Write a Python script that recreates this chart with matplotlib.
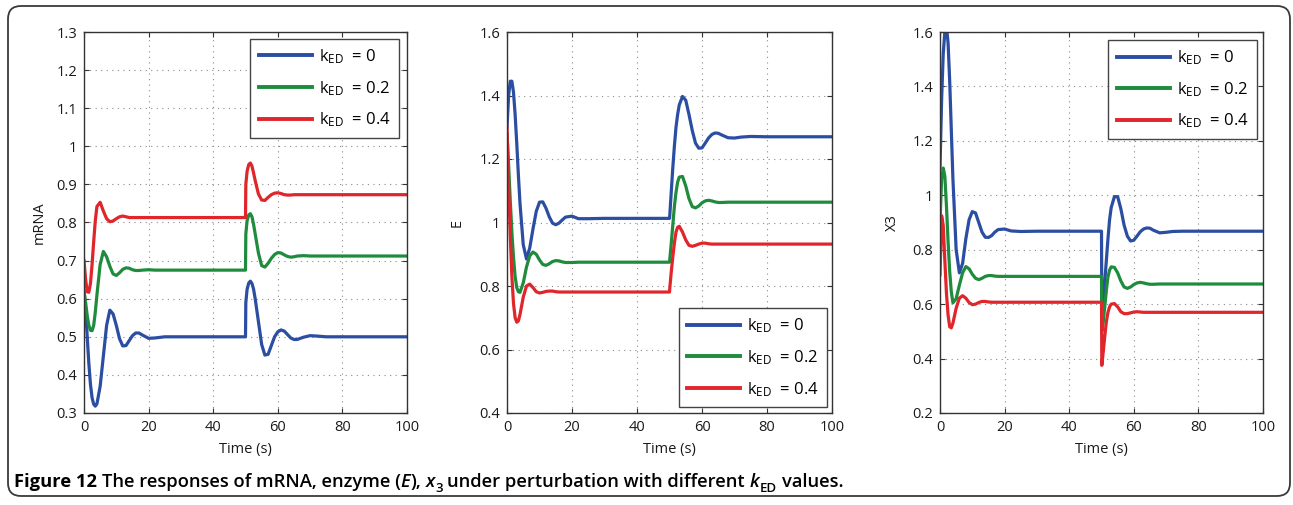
import matplotlib
matplotlib.use('Agg')
import matplotlib.pyplot as plt
from matplotlib.patches import FancyBboxPatch
from matplotlib.ticker import FixedLocator, FuncFormatter
from matplotlib.transforms import IdentityTransform

plt.rcParams['font.family'] = ['Open Sans', 'DejaVu Sans']
plt.rcParams['mathtext.fontset'] = 'custom'
plt.rcParams['mathtext.rm'] = 'Open Sans'
plt.rcParams['mathtext.it'] = 'Open Sans:italic'
plt.rcParams['mathtext.bf'] = 'Open Sans:bold'

# --- data ---
time_s = [0, 0.5, 1, 1.5, 2, 2.5, 3, 3.5, 4,
          5, 6, 7, 8, 9, 10, 11, 12, 13, 14, 15, 16, 17, 18,
          20, 22, 25, 30, 40, 50,
          50.1, 50.5, 51, 51.5, 52, 52.5, 53,
          54, 55, 56, 57, 58, 59, 60, 61, 62, 63, 64, 65, 66,
          68, 70, 72, 75, 80, 90, 100]

mrna_k0 = [0.62, 0.57, 0.50, 0.43, 0.375, 0.34, 0.323, 0.318, 0.324,
           0.37, 0.45, 0.53, 0.57, 0.56, 0.53, 0.495, 0.476, 0.477, 0.49, 0.503, 0.51, 0.51, 0.505,
           0.496, 0.497, 0.50, 0.50, 0.50, 0.50,
           0.59, 0.625, 0.641, 0.646, 0.64, 0.625, 0.60,
           0.54, 0.48, 0.452, 0.454, 0.477, 0.50, 0.513, 0.518, 0.515, 0.506, 0.497, 0.493, 0.493,
           0.499, 0.503, 0.502, 0.50, 0.50, 0.50, 0.50]
mrna_k02 = [0.62, 0.59, 0.555, 0.53, 0.517, 0.516, 0.53, 0.565, 0.61,
            0.69, 0.724, 0.71, 0.685, 0.665, 0.661, 0.668, 0.677, 0.681, 0.68, 0.676, 0.674, 0.674, 0.675,
            0.676, 0.675, 0.675, 0.675, 0.675, 0.675,
            0.77, 0.805, 0.82, 0.823, 0.815, 0.795, 0.77,
            0.72, 0.687, 0.683, 0.693, 0.706, 0.716, 0.721, 0.72, 0.715, 0.711, 0.709, 0.71, 0.712,
            0.713, 0.712, 0.712, 0.712, 0.712, 0.712, 0.712]
mrna_k04 = [0.70, 0.65, 0.618, 0.617, 0.64, 0.69, 0.75, 0.805, 0.842,
            0.853, 0.83, 0.81, 0.802, 0.804, 0.81, 0.815, 0.817, 0.815, 0.813, 0.813, 0.813, 0.813, 0.813,
            0.813, 0.813, 0.813, 0.813, 0.813, 0.813,
            0.90, 0.935, 0.952, 0.956, 0.948, 0.93, 0.91,
            0.875, 0.859, 0.858, 0.866, 0.873, 0.877, 0.878, 0.876, 0.873, 0.872, 0.872, 0.873, 0.873,
            0.873, 0.873, 0.873, 0.873, 0.873, 0.873, 0.873]

enz_k0 = [1.30, 1.40, 1.445, 1.445, 1.41, 1.34, 1.25, 1.15, 1.06,
          0.93, 0.885, 0.92, 0.98, 1.035, 1.064, 1.065, 1.045, 1.018, 0.998, 0.993, 0.998, 1.008, 1.017,
          1.02, 1.012, 1.012, 1.013, 1.013, 1.013,
          1.025, 1.09, 1.17, 1.24, 1.30, 1.34, 1.37,
          1.397, 1.385, 1.34, 1.29, 1.25, 1.234, 1.235, 1.25, 1.266, 1.277, 1.282, 1.281, 1.276,
          1.267, 1.266, 1.269, 1.271, 1.27, 1.27, 1.27]
enz_k02 = [1.28, 1.18, 1.07, 0.97, 0.89, 0.83, 0.795, 0.782, 0.78,
           0.81, 0.86, 0.895, 0.907, 0.90, 0.882, 0.868, 0.865, 0.87, 0.877, 0.88, 0.879, 0.876, 0.874,
           0.874, 0.875, 0.875, 0.875, 0.875, 0.875,
           0.885, 0.93, 0.99, 1.05, 1.095, 1.127, 1.143,
           1.145, 1.115, 1.075, 1.05, 1.046, 1.052, 1.062, 1.068, 1.07, 1.068, 1.065, 1.063, 1.063,
           1.064, 1.064, 1.064, 1.064, 1.064, 1.064, 1.064]
enz_k04 = [1.30, 1.12, 0.96, 0.83, 0.745, 0.70, 0.686, 0.69, 0.71,
           0.765, 0.80, 0.806, 0.795, 0.782, 0.778, 0.78, 0.783, 0.784, 0.784, 0.782, 0.781, 0.781, 0.781,
           0.781, 0.781, 0.781, 0.781, 0.781, 0.781,
           0.795, 0.84, 0.89, 0.935, 0.97, 0.985, 0.988,
           0.97, 0.945, 0.928, 0.925, 0.928, 0.932, 0.935, 0.935, 0.933, 0.932, 0.932, 0.932, 0.932,
           0.932, 0.932, 0.932, 0.932, 0.932, 0.932, 0.932]

x3_k0 = [1.10, 1.35, 1.52, 1.60, 1.62, 1.56, 1.42, 1.24, 1.06,
         0.80, 0.715, 0.75, 0.84, 0.91, 0.94, 0.935, 0.90, 0.865, 0.846, 0.845, 0.852, 0.865, 0.874,
         0.876, 0.869, 0.867, 0.868, 0.868, 0.868,
         0.55, 0.60, 0.68, 0.76, 0.84, 0.91, 0.955,
         0.995, 0.995, 0.95, 0.89, 0.85, 0.832, 0.835, 0.85, 0.866, 0.876, 0.88, 0.879, 0.872,
         0.862, 0.864, 0.867, 0.868, 0.868, 0.868, 0.868]
x3_k02 = [0.90, 1.06, 1.10, 1.07, 0.96, 0.83, 0.72, 0.645, 0.605,
          0.62, 0.67, 0.715, 0.738, 0.73, 0.71, 0.695, 0.69, 0.695, 0.702, 0.705, 0.705, 0.703, 0.702,
          0.702, 0.702, 0.702, 0.702, 0.702, 0.702,
          0.50, 0.53, 0.59, 0.65, 0.70, 0.725, 0.737,
          0.735, 0.715, 0.685, 0.663, 0.658, 0.663, 0.672, 0.678, 0.68, 0.678, 0.675, 0.673, 0.673,
          0.674, 0.674, 0.674, 0.674, 0.674, 0.674, 0.674]
x3_k04 = [0.708, 0.925, 0.89, 0.76, 0.64, 0.56, 0.517, 0.513, 0.53,
          0.585, 0.622, 0.631, 0.622, 0.606, 0.598, 0.60, 0.606, 0.61, 0.61, 0.608, 0.607, 0.607, 0.607,
          0.607, 0.607, 0.607, 0.607, 0.607, 0.607,
          0.375, 0.42, 0.48, 0.535, 0.57, 0.59, 0.60,
          0.602, 0.59, 0.572, 0.565, 0.565, 0.568, 0.571, 0.572, 0.571, 0.57, 0.57, 0.57, 0.57,
          0.57, 0.57, 0.57, 0.57, 0.57, 0.57, 0.57]

series_labels = [r'k$_{\mathrm{ED}}$  = 0', r'k$_{\mathrm{ED}}$  = 0.2', r'k$_{\mathrm{ED}}$  = 0.4']
series_colors = ['#2b4ea2', '#1e8c3c', '#e0252b']

x_ticks = [0, 20, 40, 60, 80, 100]
mrna_ticks = [0.3, 0.4, 0.5, 0.6, 0.7, 0.8, 0.9, 1.0, 1.1, 1.2, 1.3]
enz_ticks = [0.4, 0.6, 0.8, 1.0, 1.2, 1.4, 1.6]
x3_ticks = [0.2, 0.4, 0.6, 0.8, 1.0, 1.2, 1.4, 1.6]

W, H = 1293, 505
fig = plt.figure(figsize=(W / 100, H / 100), dpi=100)

panels = [
    # (left px, width px, ylabel, label x, series, ticks, legend loc, legend anchor)
    (84, 323, 'mRNA', -0.115, [mrna_k0, mrna_k02, mrna_k04], mrna_ticks,
     'upper right', (0.975, 0.982)),
    (507, 325, 'E', -0.13, [enz_k0, enz_k02, enz_k04], enz_ticks,
     'lower right', (0.985, 0.016)),
    (940, 323, 'X3', -0.125, [x3_k0, x3_k02, x3_k04], x3_ticks,
     'upper right', (0.981, 0.979)),
]

edge = '#333333'
for left, width, ylab, lab_x, ys, yt, loc, anchor in panels:
    ax = fig.add_axes([left / W, (H - 413) / H, width / W, 381 / H])
    for y, lab, col in zip(ys, series_labels, series_colors):
        ax.plot(time_s, y, color=col, lw=2.3, label=lab, solid_joinstyle='round')
    ax.set_xlim(0, 100)
    ax.set_ylim(yt[0], yt[-1])
    ax.xaxis.set_major_locator(FixedLocator(x_ticks))
    ax.yaxis.set_major_locator(FixedLocator(yt))
    ax.yaxis.set_major_formatter(FuncFormatter(lambda v, p: f'{v:g}'))
    ax.grid(True, linestyle=(0, (1, 4)), color='#8a8a8a', linewidth=0.8)
    ax.tick_params(direction='in', top=True, right=True, length=3.5, width=0.8,
                   color=edge, labelsize=10.5, labelcolor='#1a1a1a', pad=5)
    for sp in ax.spines.values():
        sp.set_color(edge)
        sp.set_linewidth(1.0)
    ax.set_xlabel('Time (s)', fontsize=10.5, color='#1a1a1a')
    ax.xaxis.set_label_coords(0.5, -0.075)
    ax.set_ylabel(ylab, fontsize=10.5, color='#1a1a1a')
    ax.yaxis.set_label_coords(lab_x, 0.5)
    leg = ax.legend(loc=loc, bbox_to_anchor=anchor, borderaxespad=0, fontsize=12,
                    fancybox=False, framealpha=1, edgecolor='#444444',
                    handlelength=3.2, handletextpad=0.4, labelspacing=0.78,
                    borderpad=0.5)
    leg.get_frame().set_linewidth(1.0)
    for h in leg.get_lines():
        h.set_linewidth(2.8)

# rounded frame around figure and caption
frame = FancyBboxPatch((8, H - 496), 1282, 490, boxstyle='round,pad=0,rounding_size=13',
                       transform=IdentityTransform(), fill=False, edgecolor='#3a3a3a', lw=1.3)
fig.add_artist(frame)

# caption, drawn piece by piece
renderer = fig.canvas.get_renderer()
cap_size = 13.2
parts = [
    ('Figure 12', 'bold', 'normal', 1.0, 0.0),
    (' ', 'bold', 'normal', 1.0, 0.0),
    ('The responses of mRNA, enzyme (', 'semibold', 'normal', 1.0, 0.0),
    ('E', 'semibold', 'italic', 1.0, 0.0),
    ('),', 'semibold', 'normal', 1.0, 0.0),
    (' ', 'semibold', 'normal', 1.0, 0.0),
    ('x', 'semibold', 'italic', 1.0, 0.0),
    ('3', 'semibold', 'normal', 0.72, -0.28),
    (' ', 'semibold', 'normal', 1.0, 0.0),
    ('under perturbation with different', 'semibold', 'normal', 1.0, 0.0),
    (' ', 'semibold', 'normal', 1.0, 0.0),
    ('k', 'semibold', 'italic', 1.0, 0.0),
    ('ED', 'semibold', 'normal', 0.72, -0.28),
    (' ', 'semibold', 'normal', 1.0, 0.0),
    ('values.', 'semibold', 'normal', 1.0, 0.0),
]
x_px, base_px = 14, H - 487
size_px = cap_size * 100 / 72
for text, weight, style, scale, dy in parts:
    if text == ' ':
        a = fig.text(0, 0, 'x x', size=cap_size, weight=weight)
        b = fig.text(0, 0, 'xx', size=cap_size, weight=weight)
        x_px += a.get_window_extent(renderer).width - b.get_window_extent(renderer).width
        a.remove()
        b.remove()
        continue
    t = fig.text(x_px / W, (base_px + dy * size_px) / H, text, size=cap_size * scale,
                 weight=weight, style=style, color='#000000', ha='left', va='baseline')
    x_px += t.get_window_extent(renderer).width

fig.savefig('out.png', dpi=100)
